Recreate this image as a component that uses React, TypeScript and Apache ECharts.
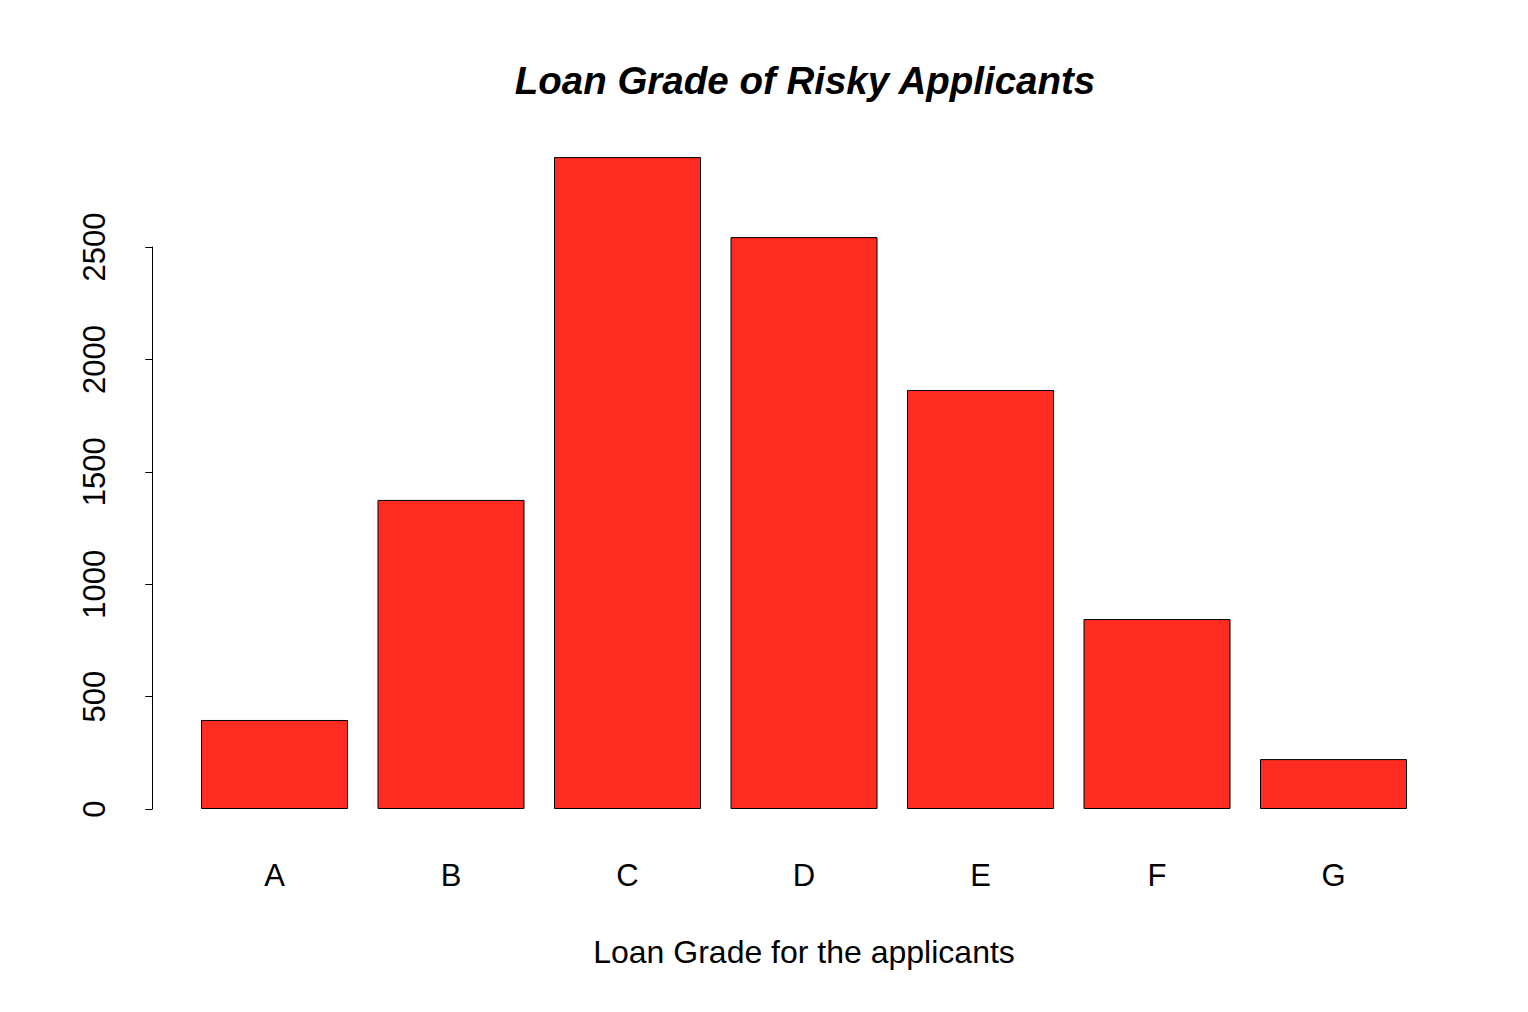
import React, { useEffect, useRef } from "react";
import * as echarts from "echarts";

const grades = ["A", "B", "C", "D", "E", "F", "G"];
const counts = [396, 1375, 2900, 2544, 1864, 845, 222];
const yTicks = [0, 500, 1000, 1500, 2000, 2500];

export default function App() {
  const ref = useRef<HTMLDivElement>(null);
  useEffect(() => {
    if (!ref.current) return;
    const chart = echarts.init(ref.current, undefined, { renderer: "svg" });
    const font = "Liberation Sans, Arial, Helvetica, sans-serif";
    chart.setOption({
      animation: false,
      backgroundColor: "#ffffff",
      title: {
        text: "Loan Grade of Risky Applicants",
        left: 800,
        top: 56,
        textAlign: "center",
        textStyle: {
          fontFamily: font,
          fontSize: 38.5,
          fontWeight: "bold",
          fontStyle: "italic",
          color: "#000",
        },
      },
      grid: { left: 186.25, right: 106.25, top: 247, bottom: 203, containLabel: false },
      xAxis: {
        type: "category",
        data: grades,
        axisLine: { show: false },
        axisTick: { show: false },
        axisLabel: { margin: 51, fontFamily: font, fontSize: 31, color: "#000" },
        name: "Loan Grade for the applicants",
        nameLocation: "middle",
        nameGap: 127,
        nameTextStyle: { fontFamily: font, fontSize: 32, color: "#000" },
      },
      yAxis: {
        type: "value",
        min: yTicks[0],
        max: yTicks[yTicks.length - 1],
        interval: 500,
        offset: 34,
        splitLine: { show: false },
        axisLine: { show: true, lineStyle: { color: "#000", width: 1 } },
        axisTick: { show: true, length: 7, lineStyle: { color: "#000", width: 1 } },
        axisLabel: {
          rotate: 90,
          margin: 42,
          fontFamily: font,
          fontSize: 31,
          color: "#000",
          formatter: (v: number) => String(v),
        },
      },
      series: [
        {
          type: "bar",
          data: counts,
          barWidth: 147,
          clip: false,
          itemStyle: { color: "#FE2B20", borderColor: "#000", borderWidth: 1 },
        },
      ],
    });
    return () => chart.dispose();
  }, []);
  return (
    <div
      ref={ref}
      style={{ position: "fixed", left: 0, top: 0, width: 1528, height: 1012 }}
    />
  );
}
